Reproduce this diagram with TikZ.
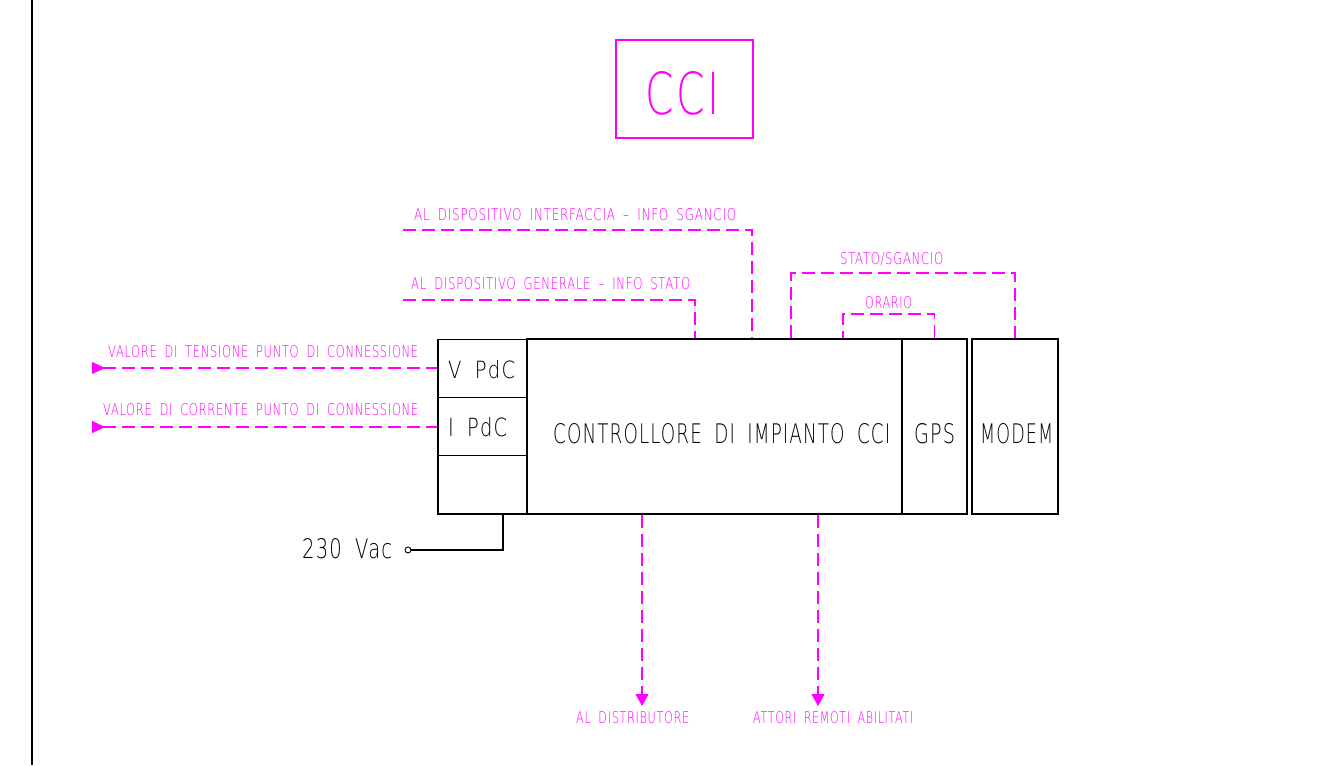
\documentclass[tikz,border=0pt]{standalone}
\usepackage{fontspec}
\setmainfont{Liberation Sans}
\newfontfamily\cad[LetterSpace=6,WordSpace=1.8]{DejaVu Sans ExtraLight}
\usetikzlibrary{arrows.meta}
\definecolor{mag}{HTML}{FF00FF}
\newcommand\fitbox[3]{\resizebox{#1pt}{#2pt}{\cad #3}}
\begin{document}
\begin{tikzpicture}[x=1pt,y=-1pt,
  blk/.style={draw=black,line width=1.1pt,rectangle,inner sep=0pt},
  sig/.style={draw=mag,line width=1.1pt,dash pattern=on 13pt off 6pt},
  mtxt/.style={text=mag,inner sep=0pt,anchor=base west},
  btxt/.style={text=black,inner sep=0pt,anchor=base west},
  tipd/.style={-{Triangle[length=12pt,width=13pt]}},
  tipl/.style={{Triangle[reversed,length=13pt,width=12pt]}-}]
\useasboundingbox (0,0) rectangle (1321,765);
\fill[white] (0,0) rectangle (1321,765);
\draw[line width=2pt] (32,0) -- (32,765);

% title
\node[draw=mag,line width=1.3pt,minimum width=137pt,minimum height=98pt,inner sep=0pt] (cci) at (684.5,89) {};
\node[mtxt] (ccit) at (645,115) {\fitbox{74}{43}{CCI}};

% boxes
\node[blk,minimum width=89pt,minimum height=58.3pt] (vbox) at (482.5,368.2) {};
\node[blk,minimum width=89pt,minimum height=58.3pt] (ibox) at (482.5,426.5) {};
\node[blk,minimum width=89pt,minimum height=58.3pt] (pbox) at (482.5,484.8) {};
\node[blk,minimum width=375pt,minimum height=175pt] (main) at (714.5,426.5) {};
\node[blk,minimum width=65pt,minimum height=175pt] (gps) at (934.5,426.5) {};
\node[blk,minimum width=86pt,minimum height=175pt] (modem) at (1015,426.5) {};

\node[btxt] (vt) at (448,378) {\fitbox{67}{18}{V PdC}};
\node[btxt] (it) at (448,436) {\fitbox{59}{19}{I PdC}};
\node[btxt] (mt) at (553,443) {\fitbox{337}{20}{CONTROLLORE DI IMPIANTO CCI}};
\node[btxt] (gt) at (914,443) {\fitbox{41}{20}{GPS}};
\node[btxt] (mdt) at (980,443) {\fitbox{73}{20}{MODEM}};

% 230 Vac
\node[btxt] (vac) at (302,558) {\fitbox{90}{20}{230 Vac}};
\node[draw=black,line width=0.9pt,circle,minimum size=6pt,inner sep=0pt] (term) at (408,550) {};
\coordinate (vk) at (503,550);
\draw[line width=1.1pt] (term.east) -- (vk) -- (vk |- pbox.south);

% left outputs
\coordinate (vend) at (92,368);
\coordinate (iend) at (92,427);
\draw[sig,tipl,mag] (vend) -- (vend -| vbox.west);
\draw[sig,tipl,mag] (iend) -- (iend -| ibox.west);
\node[mtxt] (vl) at (108,357) {\fitbox{310}{12}{VALORE DI TENSIONE PUNTO DI CONNESSIONE}};
\node[mtxt] (il) at (103,415) {\fitbox{315}{12}{VALORE DI CORRENTE PUNTO DI CONNESSIONE}};

% top lines
\coordinate (ia) at (403,230);
\coordinate (ib) at (752,230);
\draw[sig] (ia) -- (ib) -- (ib |- main.north);
\node[mtxt] (il2) at (414,220) {\fitbox{322}{12}{AL DISPOSITIVO INTERFACCIA – INFO SGANCIO}};

\coordinate (ga) at (403,300);
\coordinate (gb) at (695,300);
\draw[sig] (ga) -- (gb) -- (gb |- main.north);
\node[mtxt] (gl) at (411,289) {\fitbox{279}{12}{AL DISPOSITIVO GENERALE – INFO STATO}};

\coordinate (sa) at (791,273);
\coordinate (sb) at (1015,273);
\draw[sig] (sa |- main.north) -- (sa) -- (sb) -- (modem.north);
\node[mtxt] (sl) at (840,264) {\fitbox{103}{12}{STATO/SGANCIO}};

\coordinate (oa) at (843,314);
\coordinate (ob) at (934.5,314);
\draw[sig] (gps.north) -- (ob) -- (oa) -- (oa |- main.north);
\node[mtxt] (ol) at (865,308) {\fitbox{47}{12}{ORARIO}};

% bottom outputs
\coordinate (d1) at (642,706);
\coordinate (d2) at (818,706);
\draw[sig,tipd,mag] (d1 |- main.south) -- (d1);
\draw[sig,tipd,mag] (d2 |- main.south) -- (d2);
\node[mtxt] (dl1) at (576,723) {\fitbox{113}{12}{AL DISTRIBUTORE}};
\node[mtxt] (dl2) at (753,723) {\fitbox{160}{12}{ATTORI REMOTI ABILITATI}};
\end{tikzpicture}
\end{document}
